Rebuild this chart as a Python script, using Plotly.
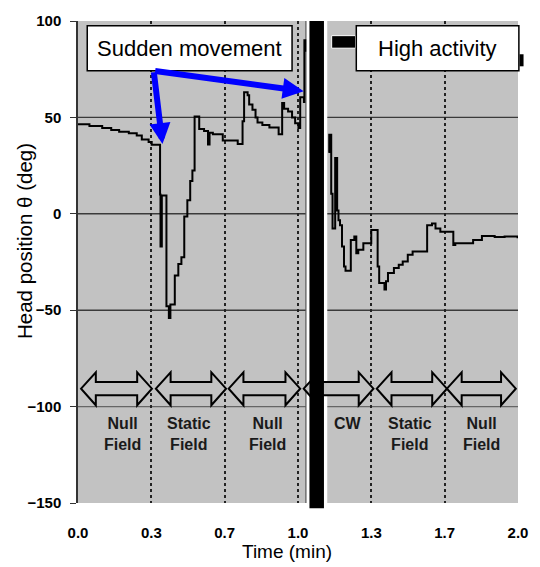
import plotly.graph_objects as go

# ---------------- data ----------------
X_MIN, X_MAX = 0.0, 2.0
Y_MIN, Y_MAX = -150, 100

x_tick_vals = [0, 1/3, 2/3, 1, 4/3, 5/3, 2]
x_tick_text = ["0.0", "0.3", "0.7", "1.0", "1.3", "1.7", "2.0"]
y_tick_vals = [-150, -100, -50, 0, 50, 100]
y_grid_vals = [50, 0, -50, -100]

# head position before the high-activity period (step trace)
time_before = [0.000, 0.052, 0.110, 0.151, 0.187, 0.231, 0.267, 0.290, 0.321, 0.335,
               0.373, 0.375, 0.381, 0.402, 0.413, 0.420, 0.440, 0.456, 0.470, 0.483,
               0.497, 0.510, 0.520, 0.530, 0.551, 0.573, 0.591, 0.598, 0.613, 0.658,
               0.726, 0.748, 0.755, 0.771, 0.778, 0.793, 0.807, 0.816, 0.838, 0.870,
               0.912, 0.928, 0.937, 0.955, 0.973, 0.987, 1.002, 1.010, 1.027, 1.029,
               1.033]
theta_before = [46.4, 45.5, 44.5, 43.5, 42.6, 41.8, 40.6, 38.5, 37.2, 35.8,
                10.0, -17.0, 9.5, -48.0, -54.0, -47.0, -32.0, -26.0, -22.5, -1.4,
                7.0, 17.0, 22.4, 50.5, 44.0, 43.0, 36.0, 42.0, 41.3, 38.0,
                36.2, 48.0, 63.0, 61.5, 56.7, 54.0, 50.0, 47.3, 46.0, 44.7,
                41.3, 57.5, 54.5, 53.0, 50.0, 47.0, 44.5, 60.5, 58.0, 90.0,
                84.0]

# head position after the high-activity period (step trace)
time_after = [1.138, 1.142, 1.151, 1.157, 1.169, 1.178, 1.184, 1.191, 1.200, 1.209,
              1.216, 1.240, 1.256, 1.265, 1.274, 1.297, 1.333, 1.362, 1.369, 1.393,
              1.400, 1.409, 1.436, 1.458, 1.476, 1.499, 1.521, 1.587, 1.609, 1.625,
              1.647, 1.706, 1.715, 1.796, 1.836, 1.894, 1.939, 1.998]
theta_after = [32.0, 41.0, 10.4, -7.6, 29.0, 1.7, -3.3, -6.0, -17.0, -27.3,
               -29.5, -13.6, -11.8, -20.4, -18.7, -15.3, -8.4, -27.3, -35.9, -39.3,
               -35.0, -30.7, -28.1, -26.4, -24.7, -21.3, -19.5, -5.9, -5.0, -7.6,
               -9.3, -16.2, -15.3, -13.6, -11.5, -12.0, -11.8, -12.7]

phase_labels = ["Null<br>Field", "Static<br>Field", "Null<br>Field",
                "CW", "Static<br>Field", "Null<br>Field"]
phase_label_x = [0.200, 0.505, 0.863, 1.225, 1.508, 1.835]
phase_start = [0.014, 0.354, 0.685, 1.026, 1.358, 1.677]
phase_end = [0.336, 0.673, 1.010, 1.343, 1.677, 1.990]

gap_x = [1.036, 1.133]          # blank gap between the two panels
blackout_x = [1.052, 1.118]     # thick black bar (high activity period)

box_sudden_x = [0.042, 0.973]
box_high_x = [1.265, 2.004]
box_y = [74.2, 97.5]
sudden_text_x = 0.508
high_text_x = 1.636
box_text_y = 85.9

arrow_tail = (0.344, 74.2)
arrow_tips = [(0.384, 36.2), (1.026, 63.6)]

# ---------------- styles ----------------
BG = "#c2c2c2"
FONT = "Arial, Liberation Sans, sans-serif"


def px(x):
    return (x - X_MIN) / (X_MAX - X_MIN)


def py(y):
    return (y - Y_MIN) / (Y_MAX - Y_MIN)


fig = go.Figure()
fig.add_trace(go.Scatter(x=time_before, y=theta_before, mode="lines",
                         line=dict(color="black", width=2, shape="hv"),
                         showlegend=False, hoverinfo="skip"))
fig.add_trace(go.Scatter(x=time_after, y=theta_after, mode="lines",
                         line=dict(color="black", width=2, shape="hv"),
                         showlegend=False, hoverinfo="skip"))

shapes = []
# horizontal grid lines
for gy in y_grid_vals:
    shapes.append(dict(type="line", xref="x", yref="y", x0=X_MIN, x1=X_MAX, y0=gy, y1=gy,
                       line=dict(color="#3a3a3a" if gy != -100 else "#666666", width=1.4),
                       layer="below"))
# white gap between panels
shapes.append(dict(type="rect", xref="x", yref="y", x0=gap_x[0], x1=gap_x[1],
                   y0=Y_MIN, y1=Y_MAX, fillcolor="white", line=dict(width=0), layer="between"))
shapes.append(dict(type="line", xref="x", yref="y", x0=gap_x[0], x1=gap_x[0],
                   y0=Y_MIN, y1=Y_MAX, line=dict(color="#555555", width=1.2), layer="between"))

# double-headed phase arrows
HEAD_L = 0.067
yc, htop, stop, sbot, hbot = -90.7, -82.2, -87.3, -94.1, -99.3
for xa, xb in zip(phase_start, phase_end):
    p = (f"M{xa},{yc} L{xa+HEAD_L},{htop} L{xa+HEAD_L},{stop} L{xb-HEAD_L},{stop} "
         f"L{xb-HEAD_L},{htop} L{xb},{yc} L{xb-HEAD_L},{hbot} L{xb-HEAD_L},{sbot} "
         f"L{xa+HEAD_L},{sbot} L{xa+HEAD_L},{hbot} Z")
    shapes.append(dict(type="path", xref="x", yref="y", path=p, fillcolor=BG,
                       line=dict(color="black", width=2), layer="above"))

# black bar
shapes.append(dict(type="rect", xref="paper", yref="paper", x0=px(blackout_x[0]), x1=px(blackout_x[1]),
                   y0=-0.011, y1=1.0, fillcolor="black", line=dict(width=0), layer="above"))
# small black legend-like marks
shapes.append(dict(type="rect", xref="x", yref="y", x0=1.153, x1=1.262, y0=85.9, y1=92.4,
                   fillcolor="black", line=dict(color="white", width=1), layer="above"))
shapes.append(dict(type="rect", xref="paper", yref="paper", x0=1.0036, x1=1.0126, y0=0.906, y1=0.931,
                   fillcolor="black", line=dict(width=0), layer="above"))
# annotation boxes
for bx in (box_sudden_x, box_high_x):
    shapes.append(dict(type="rect", xref="paper", yref="paper", x0=px(bx[0]), x1=px(bx[1]),
                       y0=py(box_y[0]), y1=py(box_y[1]), fillcolor="white",
                       line=dict(color="black", width=1.5), layer="above"))

annotations = []
annotations.append(dict(x=sudden_text_x, y=box_text_y, xref="x", yref="y", text="Sudden movement",
                        showarrow=False, xanchor="center", yanchor="middle",
                        font=dict(family=FONT, size=22, color="black")))
annotations.append(dict(x=high_text_x, y=box_text_y, xref="x", yref="y", text="High activity",
                        showarrow=False, xanchor="center", yanchor="middle",
                        font=dict(family=FONT, size=22, color="black")))
for tx, ty in arrow_tips:
    annotations.append(dict(x=tx, y=ty, xref="x", yref="y", ax=arrow_tail[0], ay=arrow_tail[1],
                            axref="x", ayref="y", text="", showarrow=True, arrowhead=2,
                            arrowsize=0.7, arrowwidth=6, arrowcolor="#0000ff"))
for lab, lx in zip(phase_labels, phase_label_x):
    annotations.append(dict(x=lx, y=-103.5, xref="x", yref="y", text=lab, showarrow=False,
                            xanchor="center", yanchor="top", align="center",
                            font=dict(family=FONT, size=16, color="#1a1a1a", weight="bold")))
annotations.append(dict(x=-0.12, y=0.544, xref="paper", yref="paper", text="Head position θ (deg)",
                        textangle=-90, showarrow=False, xanchor="center", yanchor="middle",
                        font=dict(family=FONT, size=20.5, color="black")))
annotations.append(dict(x=0.475, y=-0.1016, xref="paper", yref="paper", text="Time (min)",
                        showarrow=False, xanchor="center", yanchor="middle",
                        font=dict(family=FONT, size=19, color="black")))

fig.update_layout(
    width=540, height=567,
    margin=dict(l=78, r=17, t=16, b=64),
    paper_bgcolor="white", plot_bgcolor=BG,
    shapes=shapes, annotations=annotations,
    showlegend=False,
    xaxis=dict(range=[X_MIN, X_MAX], tickvals=x_tick_vals, ticktext=x_tick_text,
               showgrid=True, gridcolor="#222222", gridwidth=1.5, griddash="dot",
               zeroline=False, showline=False, ticks="", ticklabelstandoff=19,
               tickfont=dict(family=FONT, size=15, color="black", weight="bold")),
    yaxis=dict(range=[Y_MIN, Y_MAX], tickvals=y_tick_vals, showgrid=False, zeroline=False,
               showline=True, linecolor="#333333", linewidth=1.5, ticks="outside", ticklen=6,
               tickcolor="#333333", ticklabelstandoff=6,
               tickfont=dict(family=FONT, size=15, color="black", weight="bold")),
)

fig.write_html("out.html")
